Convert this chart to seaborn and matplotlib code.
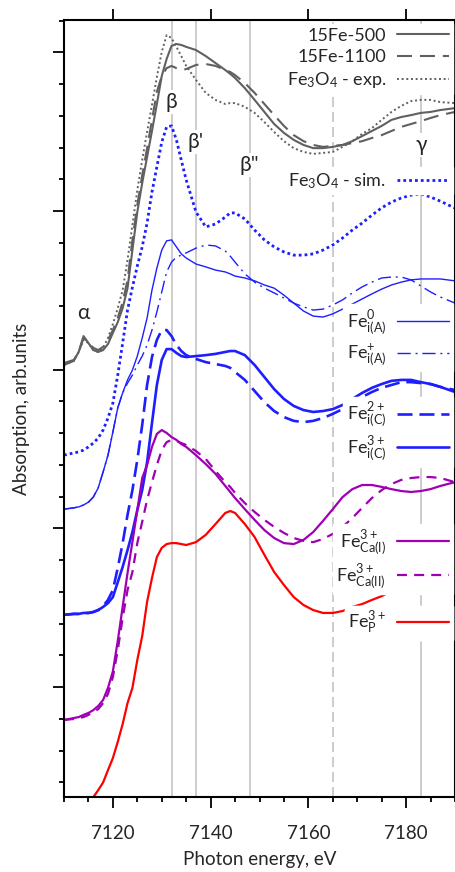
import numpy as np
import pandas as pd
import seaborn as sns
import matplotlib
matplotlib.use("Agg")
import matplotlib.pyplot as plt
from matplotlib.ticker import MultipleLocator, NullFormatter

# photon energy grid, eV
energy = [7110, 7112, 7113, 7114, 7115, 7116, 7117, 7118, 7119, 7120, 7121, 7122,
          7123, 7124, 7125, 7126, 7127, 7128, 7129, 7130, 7131, 7132, 7133, 7134,
          7135, 7137, 7139, 7141, 7143, 7144, 7145, 7147, 7149, 7151, 7153, 7155, 7157,
          7159, 7161, 7163, 7165, 7167, 7169, 7171, 7173, 7175, 7177, 7179, 7181,
          7183, 7185, 7187, 7190]

# absorption (shifted, arb. units)
fe500 = [15.15, 15.28, 15.56, 16.06, 15.84, 15.62, 15.56, 15.62, 15.81, 16.16, 16.5, 16.94,
         17.57, 18.77, 19.97, 20.88, 21.7, 22.52, 23.37, 24.25, 24.79, 25.2, 25.26, 25.23,
         25.17, 25.07, 24.88, 24.66, 24.44, 24.32, 24.19, 23.87, 23.5, 23.12, 22.74, 22.46, 22.24,
         22.08, 21.98, 21.98, 22.02, 22.08, 22.2, 22.36, 22.52, 22.68, 22.87, 22.96, 23.02,
         23.09, 23.12, 23.18, 23.24]
fe1100 = [15.21, 15.31, 15.56, 16.0, 15.87, 15.69, 15.62, 15.72, 15.94, 16.25, 16.63, 17.13,
          17.83, 19.09, 20.19, 21.13, 21.98, 22.87, 23.75, 24.25, 24.5, 24.57, 24.5, 24.44,
          24.47, 24.6, 24.63, 24.57, 24.44, 24.38, 24.28, 24.03, 23.72, 23.37, 23.02, 22.68, 22.39,
          22.2, 22.08, 22.02, 22.05, 22.08, 22.14, 22.2, 22.3, 22.39, 22.52, 22.65, 22.74,
          22.83, 22.93, 23.02, 23.12]
fe3o4_exp = [15.15, 15.28, 15.56, 15.94, 15.84, 15.62, 15.56, 15.69, 16.0, 16.44, 16.94, 17.51,
             18.46, 19.56, 20.66, 21.61, 22.49, 23.34, 24.22, 25.01, 25.54, 25.45, 25.17, 24.88,
             24.57, 24.13, 23.72, 23.5, 23.37, 23.4, 23.4, 23.28, 23.09, 22.8, 22.49, 22.2, 21.98,
             21.86, 21.8, 21.83, 21.86, 22.02, 22.2, 22.43, 22.61, 22.87, 23.12, 23.31, 23.46,
             23.5, 23.5, 23.43, 23.4]
fe3o4_sim = [12.31, 12.38, 12.41, 12.47, 12.57, 12.69, 12.85, 13.1, 13.48, 13.95, 14.83, 15.84,
             16.88, 17.6, 18.27, 18.87, 19.62, 20.6, 21.39, 22.17, 22.65, 22.68, 22.24, 21.6,
             20.98, 19.97, 19.5, 19.59, 19.81, 19.94, 19.94, 19.75, 19.4, 19.09, 18.87, 18.71, 18.61,
             18.61, 18.65, 18.77, 18.93, 19.15, 19.4, 19.62, 19.87, 20.1, 20.28, 20.41, 20.5,
             20.54, 20.44, 20.31, 20.09]
fe0_ia = [10.61, 10.65, 10.68, 10.74, 10.83, 10.99, 11.28, 11.78, 12.31, 13.04, 13.8, 14.27,
          14.68, 14.99, 15.43, 16.0, 16.63, 17.51, 18.2, 18.77, 19.06, 19.09, 18.87, 18.65,
          18.52, 18.33, 18.24, 18.14, 18.08, 18.02, 17.95, 17.89, 17.8, 17.67, 17.57, 17.35, 17.1,
          16.85, 16.69, 16.66, 16.76, 16.91, 17.07, 17.23, 17.39, 17.54, 17.67, 17.76, 17.83,
          17.86, 17.86, 17.86, 17.8]
fep_ia = [10.61, 10.65, 10.68, 10.74, 10.83, 10.99, 11.28, 11.78, 12.31, 13.04, 13.8, 14.27,
          14.58, 14.83, 15.15, 15.43, 15.78, 16.25, 16.82, 17.45, 18.08, 18.39, 18.55, 18.61,
          18.68, 18.83, 18.93, 18.9, 18.74, 18.58, 18.39, 18.02, 17.76, 17.57, 17.42, 17.26, 17.1,
          16.98, 16.88, 16.91, 17.04, 17.2, 17.42, 17.61, 17.76, 17.89, 17.92, 17.92, 17.83,
          17.64, 17.45, 17.29, 17.1]
fe2_ic = [7.28, 7.31, 7.31, 7.34, 7.34, 7.37, 7.43, 7.56, 7.75, 8.06, 8.76, 9.54,
          10.43, 11.21, 12.16, 13.26, 14.52, 15.4, 15.94, 16.25, 16.25, 16.06, 15.78, 15.59,
          15.46, 15.34, 15.24, 15.18, 15.12, 15.06, 14.93, 14.68, 14.33, 13.98, 13.7, 13.51, 13.39,
          13.35, 13.39, 13.48, 13.61, 13.76, 13.95, 14.14, 14.3, 14.43, 14.52, 14.61, 14.61,
          14.58, 14.55, 14.46, 14.36]
fe3_ic = [7.28, 7.31, 7.31, 7.34, 7.34, 7.37, 7.43, 7.53, 7.65, 7.84, 8.31, 8.79,
          9.32, 9.89, 10.58, 11.21, 12.09, 13.32, 14.52, 15.31, 15.65, 15.65, 15.53, 15.43,
          15.4, 15.43, 15.46, 15.5, 15.56, 15.59, 15.59, 15.46, 15.15, 14.77, 14.39, 14.08, 13.86,
          13.73, 13.67, 13.7, 13.76, 13.89, 14.08, 14.27, 14.43, 14.55, 14.65, 14.68, 14.68,
          14.61, 14.55, 14.46, 14.3]
fe3_ca1 = [3.97, 4.03, 4.06, 4.13, 4.19, 4.28, 4.41, 4.6, 4.98, 5.5, 6.46, 7.53,
           8.6, 9.58, 10.58, 11.59, 12.0, 12.57, 12.98, 13.1, 13.01, 12.88, 12.79, 12.66,
           12.57, 12.31, 12.03, 11.72, 11.34, 11.15, 10.96, 10.61, 10.27, 9.95, 9.7, 9.54, 9.51,
           9.64, 9.89, 10.24, 10.61, 10.99, 11.24, 11.37, 11.37, 11.31, 11.24, 11.18, 11.15,
           11.18, 11.24, 11.34, 11.46]
fe3_ca2 = [3.97, 4.0, 4.03, 4.06, 4.13, 4.22, 4.31, 4.5, 4.79, 5.32, 6.17, 7.18,
           8.06, 8.63, 9.54, 10.21, 10.9, 11.46, 12.0, 12.47, 12.72, 12.79, 12.76, 12.69,
           12.63, 12.44, 12.19, 11.81, 11.46, 11.31, 11.12, 10.8, 10.52, 10.27, 10.05, 9.86, 9.7,
           9.61, 9.57, 9.67, 9.83, 10.05, 10.33, 10.65, 10.96, 11.21, 11.4, 11.53, 11.59,
           11.62, 11.62, 11.59, 11.46]
fe3_p = [np.nan, np.nan, np.nan, np.nan, 1.26, 1.54, 1.76, 2.0, 2.39, 2.77, 3.28, 3.84,
         4.5, 4.98, 5.86, 6.61, 7.69, 8.44, 9.1, 9.39, 9.51, 9.54, 9.54, 9.51,
         9.48, 9.57, 9.8, 10.14, 10.49, 10.55, 10.49, 10.14, 9.73, 9.17, 8.63, 8.22, 7.84,
         7.59, 7.43, 7.34, 7.34, 7.4, 7.53, 7.62, 7.75, 7.87, 8.03, 8.09, 8.13,
         8.16, 8.16, 8.22, 8.28]

labels = ['15Fe-500', '15Fe-1100', 'Fe$_3$O$_4$ - exp.', 'Fe$_3$O$_4$ - sim.',
          'Fe$^{0}_{\\mathrm{i(A)}}$', 'Fe$^{+}_{\\mathrm{i(A)}}$',
          'Fe$^{2+}_{\\mathrm{i(C)}}$', 'Fe$^{3+}_{\\mathrm{i(C)}}$',
          'Fe$^{3+}_{\\mathrm{Ca(I)}}$', 'Fe$^{3+}_{\\mathrm{Ca(II)}}$',
          'Fe$^{3+}_{\\mathrm{P}}$']
series = [fe500, fe1100, fe3o4_exp, fe3o4_sim, fe0_ia, fep_ia,
          fe2_ic, fe3_ic, fe3_ca1, fe3_ca2, fe3_p]

# feature positions, eV
feature_lines = [7132, 7137, 7148, 7165, 7183]
feature_names = ['β', "β'", 'β"', 'γ', 'α']
feature_pos = [(7132, 23.43), (7137, 22.17), (7148, 21.45), (7183, 22.08), (7114, 16.79)]

gray = '#606060'
blue = '#1e1eff'
purple = '#a000b4'
red = '#ff0000'
styles = [
    dict(color=gray, lw=1.5, ls='-'),
    dict(color=gray, lw=1.5, ls=(0, (7.2, 3.8))),
    dict(color=gray, lw=1.4, ls=(0, (1, 1.4))),
    dict(color=blue, lw=2.0, ls=(0, (1, 1.1))),
    dict(color=blue, lw=1.0, ls='-'),
    dict(color=blue, lw=1.0, ls=(0, (9.5, 3.5, 1.4, 3.5))),
    dict(color=blue, lw=1.9, ls=(0, (5.7, 2.6))),
    dict(color=blue, lw=1.9, ls='-'),
    dict(color=purple, lw=1.6, ls='-'),
    dict(color=purple, lw=1.6, ls=(0, (4.5, 3.2))),
    dict(color=red, lw=1.6, ls='-'),
]

sns.set_style("ticks")
plt.rcParams['font.family'] = ['Lato', 'DejaVu Sans']
plt.rcParams['mathtext.fontset'] = 'custom'
plt.rcParams['mathtext.rm'] = 'Lato'
plt.rcParams['mathtext.it'] = 'Lato:italic'
plt.rcParams['mathtext.bf'] = 'Lato:bold'

fs = 13.5
fig = plt.figure(figsize=(4.56, 8.72), dpi=100)
ax = fig.add_axes([64 / 456, 75 / 872, 391 / 456, 777 / 872])

for i, xv in enumerate(feature_lines):
    ax.axvline(xv, color='#c4c4c4', lw=1.2, zorder=0.5,
               ls=(0, (6, 3)) if xv == 7165 else '-')

df = pd.DataFrame({'energy': energy})
handles = []
for lab, vals, st in zip(labels, series, styles):
    df['y'] = vals
    sns.lineplot(data=df, x='energy', y='y', ax=ax, color=st['color'],
                 linewidth=st['lw'], linestyle=st['ls'], errorbar=None,
                 legend=False, zorder=2)
    handles.append(ax.lines[-1])

for name, (xv, yv) in zip(feature_names, feature_pos):
    ax.text(xv, yv, name, fontsize=15, ha='center', va='center', zorder=1,
            bbox=dict(boxstyle='square,pad=0.1', fc='white', ec='none'))

# groups of legend entries, with the vertical centre of each group (axes fraction)
groups = [([0, 1, 2], 0.950), ([3], 0.793), ([4, 5], 0.591),
          ([6, 7], 0.470), ([8, 9], 0.306), ([10], 0.224)]
for idx, yc in groups:
    leg = ax.legend([handles[k] for k in idx], [labels[k] for k in idx],
                    loc='center right', bbox_to_anchor=(0.995, yc),
                    fontsize=13, markerfirst=False, handlelength=2.9,
                    handletextpad=0.6, borderpad=0.2, borderaxespad=0,
                    labelspacing=0.28, frameon=True, fancybox=False,
                    facecolor='white', edgecolor='white', framealpha=1)
    ax.add_artist(leg)

ax.set_xlim(7110, 7190)
ax.set_ylim(1.543, 26.016)
ax.xaxis.set_major_locator(MultipleLocator(20))
ax.xaxis.set_minor_locator(MultipleLocator(5))
ax.yaxis.set_major_locator(MultipleLocator(5))
ax.yaxis.set_minor_locator(MultipleLocator(1))
ax.yaxis.set_major_formatter(NullFormatter())

for sp in ax.spines.values():
    sp.set_linewidth(1.5)
    sp.set_color('black')
ax.tick_params(which='both', direction='out', width=1.3, color='black')
ax.tick_params(which='major', length=8)
ax.tick_params(which='minor', length=3.5)
ax.tick_params(axis='x', top=True, bottom=True, labeltop=False, labelsize=fs, pad=12)
ax.tick_params(axis='y', left=True, right=False, labelleft=False)

ax.set_xlabel('Photon energy, eV', fontsize=fs)
ax.set_ylabel('Absorption, arb.units', fontsize=fs)
ax.xaxis.set_label_coords(0.5, -0.0695)
ax.yaxis.set_label_coords(-0.087, 0.5)

fig.savefig('out.png', dpi=100)
